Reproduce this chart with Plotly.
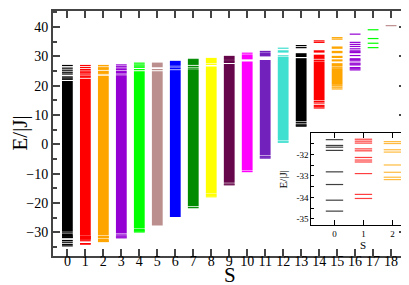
import plotly.graph_objects as go

# ---------------- data ----------------
S = list(range(19))
colors = ['#000000', '#FF0000', '#FFA500', '#9400D3', '#00FF00', '#BC8F8F', '#0000FF',
          '#008B00', '#FFFF00', '#67074B', '#FF00FF', '#7221BC', '#40E0D0',
          '#000000', '#FF0000', '#FFA500', '#9400D3', '#00FF00', '#BC8F8F']

# dense (quasi-continuous) parts of the spectrum per S: [low, high]
bands = [
    [[-29.8, 21.6], [-31.0, -30.5]],
    [[-31.0, 22.4]],
    [[-31.0, 23.4]],
    [[-30.4, 23.6]],
    [[-28.7, 24.9]],
    [[-27.7, 24.9], [26.3, 27.9]],
    [[-24.8, 25.1], [26.8, 28.5]],
    [[-21.1, 25.6], [27.1, 28.8]],
    [[-16.8, 26.6], [27.7, 29.5]],
    [[-13.1, 27.4], [27.9, 28.3], [28.8, 30.2]],
    [[-8.9, 28.3], [29.0, 30.7]],
    [[-3.7, 28.8], [30.0, 31.4]],
    [[1.4, 29.8], [31.3, 32.1]],
    [[7.9, 29.4], [29.8, 31.1]],
    [[15.0, 28.3], [30.0, 30.6], [31.3, 32.1]],
    [[20.3, 26.0], [26.6, 27.7], [28.3, 29.0], [29.6, 30.2], [31.1, 31.9], [32.6, 33.4]],
    [],
    [],
    [],
]

# isolated levels per S (main panel)
levels = [
    [22.2, 22.6, 23.0, 24.0, 24.6, 25.3, 26.0, 26.9, -30.2],
    [22.9, 23.2, 23.7, 24.3, 24.6, 25.0, 25.5, 26.2, 26.9],
    [24.1, 24.5, 24.9, 25.6, 25.9, 26.3, 26.9],
    [24.0, 24.5, 24.9, 25.5, 26.0, 26.5, 27.1, -30.9, -31.3, -31.6, -31.9],
    [25.5, 26.3, 26.7, 27.1, 27.7, -29.1, -29.4, -29.6, -29.9],
    [25.5],
    [25.3, 25.9, 26.4],
    [26.0, 26.6, 29.0, -21.6],
    [27.3, -17.1, -17.5, -17.9],
    [28.55, -13.5, -13.8],
    [31.1, -9.3],
    [31.7, -4.1, -4.4, -4.7],
    [30.2, 32.8, 1.05, 0.7],
    [33.0, 33.7, 7.5, 6.9, 6.5, 6.2],
    [35.3, 34.8, 29.6, 29.2, 28.6, 14.6, 14.1, 13.3, 12.85, 12.4],
    [36.4, 35.9, 26.3, 20.0, 19.5, 18.9],
    [37.6, 34.8, 34.1, 33.4, 32.6, 31.9, 31.6, 31.3, 30.3, 29.2, 28.9, 28.5,
     27.7, 27.4, 27.1, 26.2, 25.8, 25.4],
    [39.1, 36.1, 34.5, 33.0],
    [40.5],
]

# lowest levels (inset) for S = 0, 1, 2
inset_S = [0, 1, 2]
inset_levels = [
    [-31.31, -31.58, -31.66, -31.81, -32.81, -33.40, -34.13, -34.64],
    [-31.29, -31.38, -31.47, -31.74, -31.83, -32.14, -32.26, -32.35, -32.89, -33.86, -34.05],
    [-31.40, -31.49, -31.78, -31.89, -32.49, -32.83, -33.06, -33.17],
]

HALF = 0.3
FONT = 'Liberation Serif'

fig = go.Figure()

# dense bands as bars
bx, bbase, bh, bc = [], [], [], []
for s in S:
    for lo, hi in bands[s]:
        bx.append(s); bbase.append(lo); bh.append(hi - lo); bc.append(colors[s])
fig.add_trace(go.Bar(x=bx, y=bh, base=bbase, width=2 * HALF, marker_color=bc,
                     marker_line_width=0, showlegend=False, hoverinfo='skip',
                     xaxis='x', yaxis='y'))

# isolated levels as line segments
for s in S:
    all_lv = levels[s] + (inset_levels[inset_S.index(s)] if s in inset_S else [])
    xs, ys = [], []
    for e in all_lv:
        xs += [s - HALF, s + HALF, None]
        ys += [e, e, None]
    if xs:
        fig.add_trace(go.Scatter(x=xs, y=ys, mode='lines',
                                 line=dict(color=colors[s], width=1.2),
                                 showlegend=False, hoverinfo='skip',
                                 xaxis='x', yaxis='y'))

# inset
for i, s in enumerate(inset_S):
    xs, ys = [], []
    for e in inset_levels[i]:
        xs += [s - HALF, s + HALF, None]
        ys += [e, e, None]
    fig.add_trace(go.Scatter(x=xs, y=ys, mode='lines',
                             line=dict(color=colors[s], width=1.2),
                             opacity=0.75, showlegend=False, hoverinfo='skip',
                             xaxis='x2', yaxis='y2'))

axcol = '#444444'
fig.update_layout(
    width=409, height=285,
    margin=dict(l=45, r=2, t=3, b=37),
    paper_bgcolor='white', plot_bgcolor='white',
    barmode='overlay',
    font=dict(family=FONT, color='black'),
    xaxis=dict(domain=[0, 353 / 362], range=[-0.8, 18.83],
               tickmode='array', tickvals=S, ticktext=[str(s) for s in S],
               ticks='inside', ticklen=7, tickwidth=1.5, tickcolor=axcol,
               showline=True, linecolor=axcol, linewidth=2, mirror='ticks',
               showgrid=False, zeroline=False, ticklabelstandoff=-9,
               tickfont=dict(size=14, family=FONT)),
    yaxis=dict(domain=[0, 1], range=[-38.1, 45.5],
               tickmode='linear', tick0=0, dtick=10,
               ticks='inside', ticklen=7, tickwidth=1.5, tickcolor=axcol,
               minor=dict(dtick=5, ticklen=4, tickwidth=1.5, tickcolor=axcol, ticks='inside'),
               showline=True, linecolor=axcol, linewidth=2, mirror='ticks',
               showgrid=False, zeroline=False,
               tickfont=dict(size=14, family=FONT)),
    xaxis2=dict(domain=[(303.3 - 45) / 362, 1.0], range=[-0.8, 2.78], anchor='y2',
                tickmode='array', tickvals=inset_S, ticktext=[str(s) for s in inset_S],
                ticks='inside', ticklen=5, tickwidth=1, tickcolor='black',
                showline=True, linecolor='black', linewidth=1, mirror='ticks',
                showgrid=False, zeroline=False,
                tickfont=dict(size=9, family=FONT),
                title=dict(text='S', font=dict(size=11, family=FONT), standoff=0)),
    yaxis2=dict(domain=[(248 - 217.3) / 245, (248 - 125) / 245], range=[-35.3, -31.0],
                anchor='x2', tickmode='array', tickvals=[-35, -34, -33, -32],
                ticktext=['-35', '-34', '-33', '-32'],
                ticks='inside', ticklen=3, tickwidth=1, tickcolor='black',
                minor=dict(dtick=0.5, ticklen=3, tickwidth=1, tickcolor='black', ticks='inside'),
                showline=True, linecolor='black', linewidth=1, mirror='ticks',
                showgrid=False, zeroline=False,
                tickfont=dict(size=9, family=FONT),
                title=dict(text='E/|J|', font=dict(size=11, family=FONT), standoff=6)),
    annotations=[
        dict(text='S', xref='paper', yref='paper', x=(222 - 45) / 362,
             y=(248 - 267) / 245, xanchor='center', yanchor='middle', showarrow=False,
             font=dict(size=21, family=FONT)),
        dict(text='E/|J|', xref='paper', yref='paper', x=(11 - 45) / 362, y=0.5,
             xanchor='center', yanchor='middle', textangle=-90, showarrow=False,
             font=dict(size=21, family=FONT)),
    ],
)

fig.write_html('out.html')
